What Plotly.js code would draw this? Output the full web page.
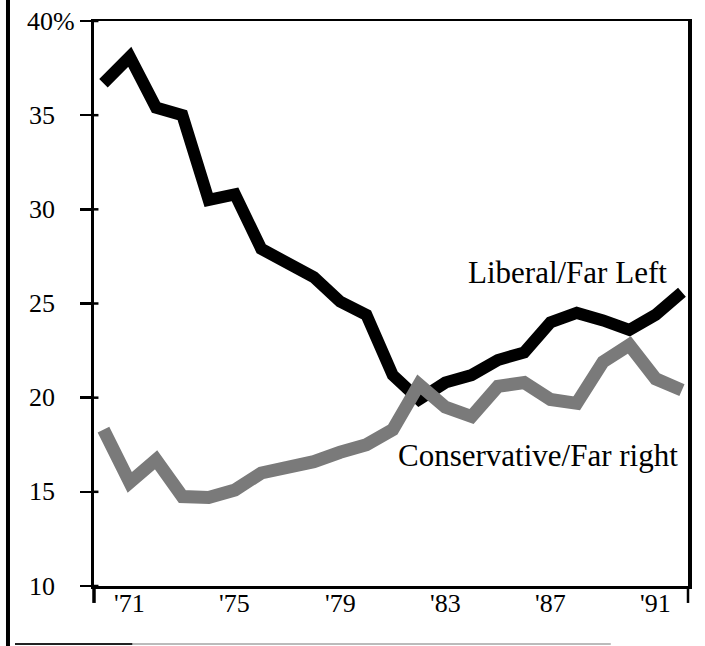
<!DOCTYPE html>
<html>
<head>
<meta charset="utf-8">
<script src="https://cdn.plot.ly/plotly-3.0.1.min.js"></script>
<style>
  html, body { margin: 0; padding: 0; background: #fff; }
  #chart { width: 705px; height: 646px; }
</style>
</head>
<body>
<div id="chart"></div>
<script>
// ---- data ----
const years = [1970, 1971, 1972, 1973, 1974, 1975, 1976, 1977, 1978, 1979, 1980, 1981,
               1982, 1983, 1984, 1985, 1986, 1987, 1988, 1989, 1990, 1991, 1992];
const liberalFarLeft = [36.7, 38.1, 35.4, 35.0, 30.5, 30.8, 27.9, 27.2, 26.4, 25.1, 24.4, 21.2,
                        19.9, 20.8, 21.2, 22.0, 22.4, 24.0, 24.5, 24.1, 23.6, 24.4, 25.6];
const conservativeFarRight = [18.3, 15.5, 16.7, 14.75, 14.7, 15.1, 16.0, 16.3, 16.6, 17.1, 17.5, 18.3,
                              20.7, 19.5, 19.0, 20.6, 20.8, 19.9, 19.7, 21.9, 22.8, 21.0, 20.4];
const seriesNames = ["Liberal/Far Left", "Conservative/Far right"];
const xTickVals = [1971, 1975, 1979, 1983, 1987, 1991];
const xTickText = ["'71", "'75", "'79", "'83", "'87", "'91"];
const yTickVals = [10, 15, 20, 25, 30, 35, 40];
const yTickText = ["10", "15", "20", "25", "30", "35", "40%"];

const NB = "\u00a0\u00a0\u00a0";
const serif = "'Liberation Serif', 'Times New Roman', serif";
const xRange = [1969.64, 1992.23];
const yRange = [10, 40];

const traces = [
  { x: years, y: liberalFarLeft, name: seriesNames[0], type: "scatter", mode: "lines",
    line: { color: "#000000", width: 12 }, hoverinfo: "skip" },
  { x: years, y: conservativeFarRight, name: seriesNames[1], type: "scatter", mode: "lines",
    line: { color: "#7a7a7a", width: 13 }, hoverinfo: "skip" }
];

const labelFont = { family: serif, size: 26, color: "#000000" };

// tick labels drawn as annotations (serif text), placed from the tick arrays
const yLabelAnns = yTickVals.map((v, i) => ({
  x: -0.0286, xref: "paper", y: v, yref: "y",
  text: yTickText[i].endsWith("%") ? yTickText[i] : yTickText[i] + NB,
  showarrow: false, xanchor: "right", yanchor: "middle", font: labelFont
}));
const xLabelAnns = xTickVals.map((v, i) => ({
  x: v, xref: "x", y: -0.031, yref: "paper",
  text: xTickText[i], showarrow: false, xanchor: "center", yanchor: "middle", font: labelFont
}));
const seriesAnns = [
  { x: 1987.63, y: 26.66, xref: "x", yref: "y", text: seriesNames[0], showarrow: false,
    xanchor: "center", yanchor: "middle", font: { family: serif, size: 31, color: "#000" } },
  { x: 1986.52, y: 16.95, xref: "x", yref: "y", text: seriesNames[1], showarrow: false,
    xanchor: "center", yanchor: "middle", font: { family: serif, size: 31, color: "#000" } }
];

const innerTicks = yTickVals.map(v => ({
  type: "line", xref: "paper", yref: "y", x0: 0, x1: 0.0075, y0: v, y1: v,
  line: { color: "#000", width: 2.5 }
}));

const frameShapes = [
  { type: "line", xref: "paper", yref: "paper", x0: 0, x1: 0, y0: 0, y1: -0.030, line: { color: "#000", width: 3.5 } },
  { type: "line", xref: "paper", yref: "paper", x0: 1, x1: 1, y0: 0, y1: -0.030, line: { color: "#000", width: 2.5 } },
  { type: "line", xref: "paper", yref: "paper", x0: -0.1448, x1: -0.1448, y0: 1.04, y1: -0.11, line: { color: "#000", width: 4 } },
  { type: "line", xref: "paper", yref: "paper", x0: -0.133, x1: 0.065, y0: -0.1026, y1: -0.1026, line: { color: "#222", width: 2 } },
  { type: "line", xref: "paper", yref: "paper", x0: 0.065, x1: 0.87, y0: -0.1026, y1: -0.1026, line: { color: "#bbb", width: 2 } }
];

const layout = {
  width: 705, height: 646,
  margin: { l: 94, r: 17, t: 21, b: 60 },
  paper_bgcolor: "#ffffff", plot_bgcolor: "#ffffff",
  showlegend: false,
  font: { family: serif, color: "#000000", size: 26 },
  xaxis: { range: xRange, tickmode: "array", tickvals: xTickVals,
    showticklabels: false, showgrid: false, zeroline: false,
    showline: true, linecolor: "#000", linewidth: 2.5, mirror: true, ticks: "" },
  yaxis: { range: yRange, tickmode: "array", tickvals: yTickVals,
    showticklabels: false, showgrid: false, zeroline: false,
    showline: true, linecolor: "#000", linewidth: 3.5, mirror: true,
    ticks: "outside", ticklen: 11, tickwidth: 2.5, tickcolor: "#000" },
  annotations: seriesAnns.concat(yLabelAnns, xLabelAnns),
  shapes: innerTicks.concat(frameShapes)
};

Plotly.newPlot("chart", traces, layout, { staticPlot: true, displayModeBar: false });
</script>
</body>
</html>
